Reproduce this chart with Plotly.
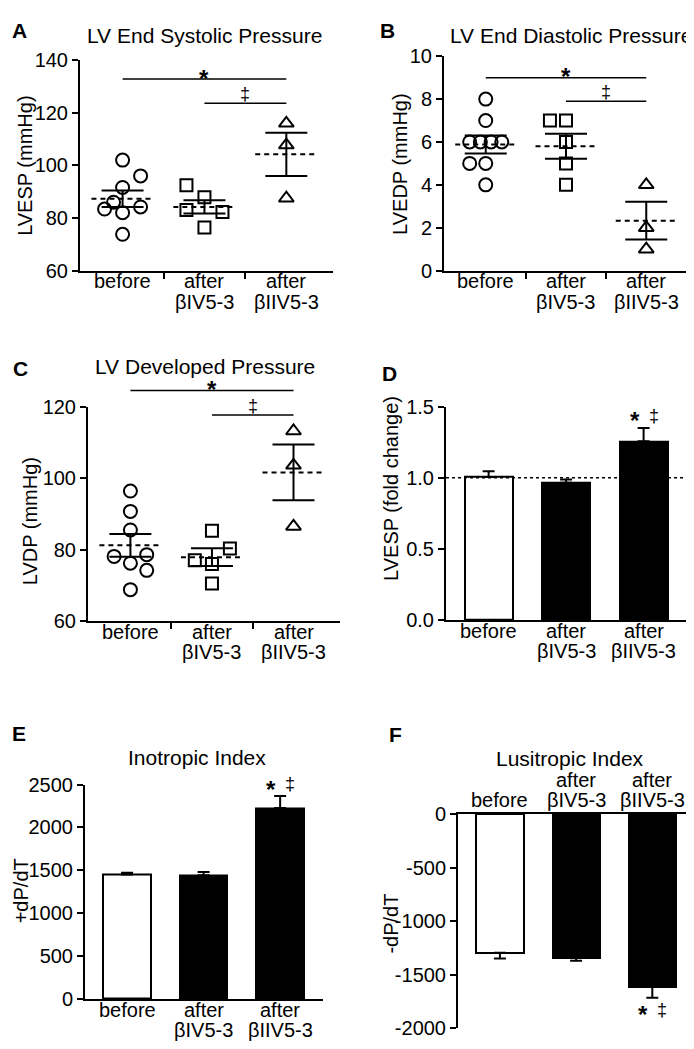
import plotly.graph_objects as go

W, H = 694, 1049
FONT = "Arial, 'Liberation Sans', sans-serif"

groups_first = ["before", "after", "after"]
groups_second = ["", "βIV5-3", "βIIV5-3"]

# A - LV end systolic pressure (mmHg)
esp_before = [102.0, 96.0, 91.6, 86.0, 83.4, 84.2, 82.0, 73.8]
esp_biv = [92.4, 87.9, 83.0, 82.3, 76.4]
esp_biiv = [116.0, 107.7, 87.5]
esp_mean = [87.3, 84.2, 104.2]
esp_sem = [3.1, 2.5, 8.2]

# B - LV end diastolic pressure (mmHg)
edp_before = [8, 7, 6, 6, 6, 6, 5, 5, 4]
edp_biv = [7, 7, 6, 5, 4]
edp_biiv = [4, 2, 1]
edp_mean = [5.88, 5.8, 2.33]
edp_sem = [0.42, 0.58, 0.88]

# C - LV developed pressure (mmHg)
dp_before = [96.4, 90.7, 85.5, 78.1, 76.2, 78.6, 74.2, 68.8]
dp_biv = [85.3, 80.3, 77.0, 76.0, 70.5]
dp_biiv = [113.2, 103.6, 86.5]
dp_mean = [81.2, 77.9, 101.6]
dp_sem = [3.2, 2.5, 7.8]

# D - LVESP fold change
fold_mean = [1.005, 0.966, 1.257]
fold_sem = [0.042, 0.023, 0.094]

# E - inotropic index (+dP/dT)
ino_mean = [1453, 1442, 2226]
ino_sem = [20, 38, 141]

# F - lusitropic index (-dP/dT)
lusi_mean = [-1294, -1339, -1613]
lusi_sem = [55, 31, 101]

# horizontal spread of overlapping points (category units)
jit_esp = [[0, .22, 0, -.11, -.22, .22, 0, 0], [-.22, 0, -.22, .22, 0], [0, 0, 0]]
jit_edp = [[0, 0, -.2, -.067, .067, .2, -.2, 0, 0], [-.2, 0, 0, 0, 0], [0, 0, 0]]
jit_dp = [[0, 0, 0, -.2, 0, .2, .2, 0], [0, .22, -.21, 0, 0], [0, 0, 0]]

# plot areas in pixels: (left, right, top, bottom)
boxes = {
    1: (72, 325, 42, 257),
    2: (436, 684, 38, 257),
    3: (80, 332, 396, 615),
    4: (438, 679, 396, 614),
    5: (77, 315, 782, 1001),
    6: (450, 687, 812, 1031),
}
yranges = {1: [60, 140], 2: [0, 10], 3: [60, 120], 4: [0, 1.5], 5: [0, 2500], 6: [-2000, 0]}


def ax(n):
    return ("x", "y") if n == 1 else (f"x{n}", f"y{n}")


def py(ypx):
    return 1 - ypx / H


def to_paper(n, v):
    l, r, t, b = boxes[n]
    lo, hi = yranges[n]
    return py(b) + (v - lo) / (hi - lo) * ((b - t) / H)


fig = go.Figure()
shapes, annos = [], []


def txt(**kw):
    font = dict(size=kw.pop("size", 20), color="black", family=FONT)
    d = dict(showarrow=False, xanchor="center", yanchor="middle", font=font)
    d.update(kw)
    annos.append(d)


def dot_panel(n, vals, jits, means, sems):
    xa, ya = ax(n)
    symbols = ["circle-open", "square-open", "triangle-up-open"]
    sizes = [13, 12, 13]
    for i in range(3):
        fig.add_trace(go.Scatter(
            x=[i + j for j in jits[i]], y=vals[i], mode="markers",
            marker=dict(symbol=symbols[i], size=sizes[i], color="black", line=dict(width=2)),
            xaxis=xa, yaxis=ya, showlegend=False))
    for i in range(3):
        fig.add_trace(go.Scatter(
            x=[i - 0.38, i + 0.38], y=[means[i], means[i]], mode="lines",
            line=dict(color="black", width=2, dash="5px,4px"),
            xaxis=xa, yaxis=ya, showlegend=False))
    fig.add_trace(go.Scatter(
        x=[0, 1, 2], y=means, mode="markers",
        marker=dict(size=1, color="rgba(0,0,0,0)"),
        error_y=dict(type="data", array=sems, width=21, thickness=2, color="black"),
        xaxis=xa, yaxis=ya, showlegend=False))


def bar_panel(n, means, sems, down=False):
    xa, ya = ax(n)
    err = dict(type="data", symmetric=False, color="black", thickness=2, width=6)
    if down:
        err.update(array=[0, 0, 0], arrayminus=sems)
    else:
        err.update(array=sems, arrayminus=[0, 0, 0])
    fig.add_trace(go.Bar(
        x=[0, 1, 2], y=means, width=0.62,
        marker=dict(color=["white", "black", "black"], line=dict(color="black", width=2)),
        error_y=err, xaxis=xa, yaxis=ya, showlegend=False))


def sig_line(n, x0, x1, v, sym, xs):
    xa, _ = ax(n)
    y = to_paper(n, v)
    shapes.append(dict(type="line", xref=xa, yref="paper", x0=x0, x1=x1, y0=y, y1=y,
                       line=dict(color="black", width=1.5)))
    if sym == "*":
        txt(xref=xa, yref="paper", x=xs, y=y, text="<b>*</b>", yshift=1, size=24)
    else:
        txt(xref=xa, yref="paper", x=xs, y=y, text="‡", yshift=9, size=18)


def star_dagger(n, v, below=False):
    xa, ya = ax(n)
    s = -1 if below else 1
    txt(xref=xa, yref=ya, x=2, y=v, text="<b>*</b>", xshift=-9, yshift=s * 12 - 5, size=24)
    txt(xref=xa, yref=ya, x=2, y=v, text="‡", xshift=10, yshift=s * 12, size=18)


def cat_labels(n, top=False):
    xa, _ = ax(n)
    l, r, t, b = boxes[n]
    if top:
        # labels above the axis: the single-line label sits on the lower row
        second = [groups_first[0]] + groups_second[1:]
        first = [""] + groups_first[1:]
        rows = [(first, t - 35), (second, t - 14)]
    else:
        rows = [(groups_first, b + 11), (groups_second, b + 32)]
    for labels, ypx in rows:
        for i, lab in enumerate(labels):
            if lab:
                txt(xref=xa, yref="paper", x=i, y=py(ypx), text=lab)


dot_panel(1, [esp_before, esp_biv, esp_biiv], jit_esp, esp_mean, esp_sem)
dot_panel(2, [edp_before, edp_biv, edp_biiv], jit_edp, edp_mean, edp_sem)
dot_panel(3, [dp_before, dp_biv, dp_biiv], jit_dp, dp_mean, dp_sem)
bar_panel(4, fold_mean, fold_sem)
bar_panel(5, ino_mean, ino_sem)
bar_panel(6, lusi_mean, lusi_sem, down=True)

sig_line(1, 0, 2, 132.8, "*", 1)
sig_line(1, 1, 2, 123.6, "‡", 1.5)
sig_line(2, 0, 2, 9.0, "*", 1)
sig_line(2, 1, 2, 7.9, "‡", 1.5)
sig_line(3, 0, 2, 124.5, "*", 1)
sig_line(3, 1, 2, 117.7, "‡", 1.5)

# dotted reference line at 1.0 in D
shapes.append(dict(type="line", xref="x4 domain", yref="y4", x0=0, x1=1, y0=1, y1=1,
                   line=dict(color="black", width=1.5, dash="dot")))

star_dagger(4, fold_mean[2] + fold_sem[2])
star_dagger(5, ino_mean[2] + ino_sem[2])
star_dagger(6, lusi_mean[2] - lusi_sem[2], below=True)

for n in range(1, 7):
    cat_labels(n, top=(n == 6))

ytitles = {1: "LVESP (mmHg)", 2: "LVEDP (mmHg)", 3: "LVDP (mmHg)",
           4: "LVESP (fold change)", 5: "+dP/dT", 6: "-dP/dT"}
ytitle_pos = {1: (17, 150), 2: (392, 148), 3: (22, 513), 4: (383, 480), 5: (13, 891), 6: (383, 924)}
dticks = {1: 20, 2: 2, 3: 20, 4: 0.5, 5: 500, 6: 500}

layout = dict(width=W, height=H, margin=dict(l=0, r=0, t=0, b=0),
              paper_bgcolor="white", plot_bgcolor="white",
              font=dict(family=FONT, color="black", size=20), bargap=0)

for n in range(1, 7):
    l, r, t, b = boxes[n]
    xa, ya = ax(n)
    xkey = "xaxis" if n == 1 else f"xaxis{n}"
    ykey = "yaxis" if n == 1 else f"yaxis{n}"
    lo, hi = yranges[n]
    dot = n <= 3
    xd = dict(domain=[l / W, r / W], anchor=ya, range=[-0.52, 2.57] if dot else [-0.55, 2.56],
              showline=True, linecolor="black", linewidth=2, showgrid=False, zeroline=False)
    if dot:
        # small ticks between the groups, labels are drawn as annotations
        xd.update(tickvals=[0.5, 1.5], ticktext=["", ""], ticks="outside", ticklen=6,
                  tickwidth=2, tickcolor="black")
    else:
        xd.update(tickvals=[0, 1, 2], ticktext=["", "", ""], ticks="")
    if n == 6:
        xd["side"] = "top"
    tv = []
    v = lo
    while v <= hi + 1e-9:
        tv.append(round(v, 3))
        v += dticks[n]
    tt = [f"{x:.1f}" if n == 4 else str(int(x)) for x in tv]
    yd = dict(domain=[py(b), py(t)], anchor=xa, range=[lo, hi], tickvals=tv, ticktext=tt,
              ticks="outside", ticklen=6, tickwidth=2, tickcolor="black", showline=True,
              linecolor="black", linewidth=2, showgrid=False, zeroline=False,
              tickfont=dict(size=20))
    layout[xkey] = xd
    layout[ykey] = yd
    tx, ty = ytitle_pos[n]
    txt(xref="paper", yref="paper", x=tx / W, y=py(ty), text=ytitles[n], textangle=-90)

# panel letters and titles
letters = [("A", 2, 12), ("B", 370, 12), ("C", 3, 357), ("D", 372, 362), ("E", 2, 730), ("F", 379, 731)]
for s, x, y in letters:
    txt(xref="paper", yref="paper", x=x / W, y=py(y), text=f"<b>{s}</b>", xanchor="left", size=21)
titles = [("LV End Systolic Pressure", 196, 17), ("LV End Diastolic Pressure", 563, 17),
          ("LV Developed Pressure", 197, 355), ("Inotropic Index", 189, 754),
          ("Lusitropic Index", 562, 755)]
for s, x, y in titles:
    txt(xref="paper", yref="paper", x=x / W, y=py(y), text=s, size=21)

layout["shapes"] = shapes
layout["annotations"] = annos
fig.update_layout(**layout)
fig.write_html("out.html")
